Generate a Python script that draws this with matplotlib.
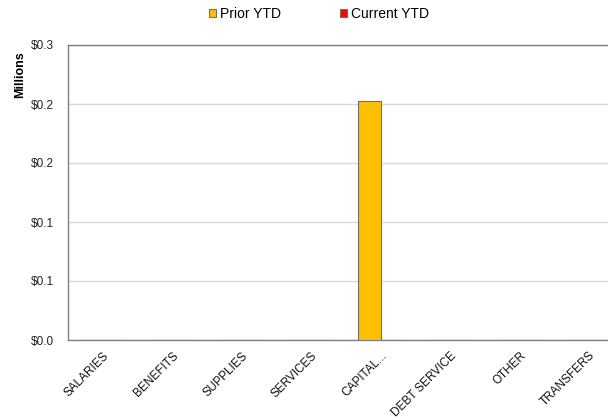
import matplotlib
matplotlib.use("Agg")
import matplotlib.pyplot as plt
import numpy as np

plt.rcParams['font.family'] = ['Liberation Sans', 'DejaVu Sans']

categories = ["SALARIES", "BENEFITS", "SUPPLIES", "SERVICES", "CAPITAL...",
              "DEBT SERVICE", "OTHER", "TRANSFERS"]
prior_ytd = [0, 0, 0, 0, 0.2025, 0, 0, 0]
current_ytd = [0, 0, 0, 0, 0, 0, 0, 0]
y_ticks = [0.0, 0.05, 0.10, 0.15, 0.20, 0.25]
y_tick_labels = ["$0.0", "$0.1", "$0.1", "$0.2", "$0.2", "$0.3"]

fig = plt.figure(figsize=(6.08, 4.19), dpi=100)
ax = fig.add_axes([68 / 608, 79 / 419, 556 / 608, 295 / 419])

x = np.arange(len(categories))
w = 0.33
ax.bar(x - w / 2, prior_ytd, w, color="#FFC000", edgecolor="#707070",
       linewidth=0.8, label="Prior YTD", zorder=3)
ax.bar(x + w / 2, current_ytd, w, color="#FF0000", edgecolor="#707070",
       linewidth=0.8, label="Current YTD", zorder=3)

ax.set_xlim(-0.5, len(categories) - 0.5)
ax.set_ylim(0, 0.25)
ax.set_yticks(y_ticks)
ax.set_yticklabels(y_tick_labels, fontsize=8.5, color="#222222")
ax.set_xticks(x)
ax.set_xticklabels(categories, fontsize=8.5, rotation=45, ha="right",
                   rotation_mode="anchor", color="#111111")
ax.tick_params(axis="y", length=0, pad=10)
ax.tick_params(axis="x", length=0, pad=7)

ax.grid(axis="y", color="#d9d9d9", linewidth=1, zorder=0)
for s in ax.spines.values():
    s.set_color("#808080")
    s.set_linewidth(1)

fig.text(20 / 608, 1 - 75 / 419, "Millions", rotation=90, fontsize=9,
         fontweight="bold", ha="center", va="center")

handles, labels = ax.get_legend_handles_labels()
fig.legend(handles, labels, loc="center", bbox_to_anchor=(319 / 608, 1 - 14 / 419),
           ncol=2, frameon=False, fontsize=10, handlelength=0.5,
           handleheight=0.5, handletextpad=0.3, columnspacing=4.2)

fig.savefig("out.png", dpi=100)
